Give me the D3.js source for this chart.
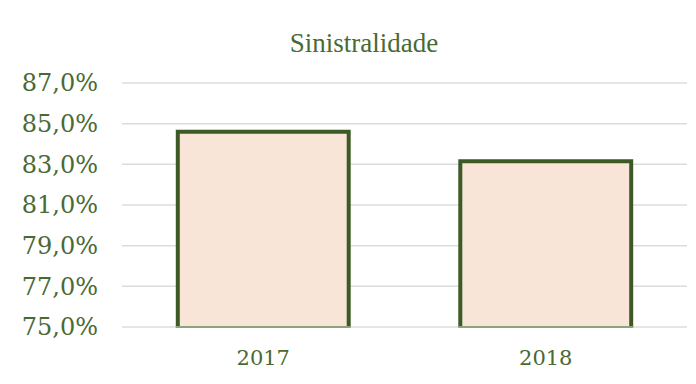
<!DOCTYPE html>
<html>
<head>
<meta charset="utf-8">
<script src="https://cdn.jsdelivr.net/npm/d3@7"></script>
<style>
  body { margin: 0; background: #fff; }
  text { font-family: "DejaVu Serif", serif; fill: #4a6934; }
</style>
</head>
<body>
<div id="chart"></div>
<script>
// data
var years = ["2017", "2018"];
var values = [84.6, 83.15];
var yTicks = [75, 77, 79, 81, 83, 85, 87];
var title = "Sinistralidade";

var W = 696, H = 384;
var margin = {top: 83, right: 9, bottom: 57, left: 122};
var width = W - margin.left - margin.right,
    height = H - margin.top - margin.bottom;

var svg = d3.select("#chart").append("svg")
    .attr("width", W)
    .attr("height", H);

var g = svg.append("g")
    .attr("transform", "translate(" + margin.left + "," + margin.top + ")");

var x = d3.scaleBand().domain(years).range([0, width])
    .paddingInner(0.395).paddingOuter(0.1975);
var y = d3.scaleLinear().domain([75, 87]).range([height, 0]);

// gridlines
g.selectAll(".grid")
    .data(yTicks)
  .enter().append("line")
    .attr("x1", 0).attr("x2", width)
    .attr("y1", function(d){ return y(d); })
    .attr("y2", function(d){ return y(d); })
    .style("stroke", "#dcdcdc")
    .style("stroke-width", 1.5);

// y labels
var fmt = function(d){ return d.toFixed(1).replace(".", ",") + "%"; };
g.selectAll(".ylab")
    .data(yTicks)
  .enter().append("text")
    .attr("x", -24)
    .attr("y", function(d){ return y(d); })
    .attr("dy", "0.35em")
    .style("text-anchor", "end")
    .style("font-size", "24px")
    .text(fmt);

// bars
var data = years.map(function(d, i){ return {year: d, value: values[i]}; });

g.selectAll(".bar")
    .data(data)
  .enter().append("rect")
    .attr("x", function(d){ return x(d.year); })
    .attr("y", function(d){ return y(d.value); })
    .attr("width", x.bandwidth())
    .attr("height", function(d){ return y(75) - y(d.value); })
    .style("fill", "#f9e4d8");

g.selectAll(".edge")
    .data(data)
  .enter().append("path")
    .attr("d", function(d){
        var x0 = x(d.year), x1 = x0 + x.bandwidth(), yt = y(d.value), yb = y(75);
        return "M" + x0 + "," + yb + "V" + yt + "H" + x1 + "V" + yb;
    })
    .style("fill", "none")
    .style("stroke", "#3d5a26")
    .style("stroke-width", 4);

g.selectAll(".base")
    .data(data)
  .enter().append("line")
    .attr("x1", function(d){ return x(d.year) - 2; })
    .attr("x2", function(d){ return x(d.year) + x.bandwidth() + 2; })
    .attr("y1", y(75)).attr("y2", y(75))
    .style("stroke", "#8ea27c")
    .style("stroke-width", 2);

// x labels
g.selectAll(".xlab")
    .data(years)
  .enter().append("text")
    .attr("x", function(d){ return x(d) + x.bandwidth() / 2; })
    .attr("y", height + 31)
    .attr("dy", "0.35em")
    .style("text-anchor", "middle")
    .style("font-size", "21px")
    .text(function(d){ return d; });

// title
svg.append("text")
    .attr("x", 364)
    .attr("y", 43)
    .attr("dy", "0.35em")
    .style("text-anchor", "middle")
    .style("font-family", "'Liberation Serif', serif")
    .style("font-size", "27px")
    .text(title);
</script>
</body>
</html>
